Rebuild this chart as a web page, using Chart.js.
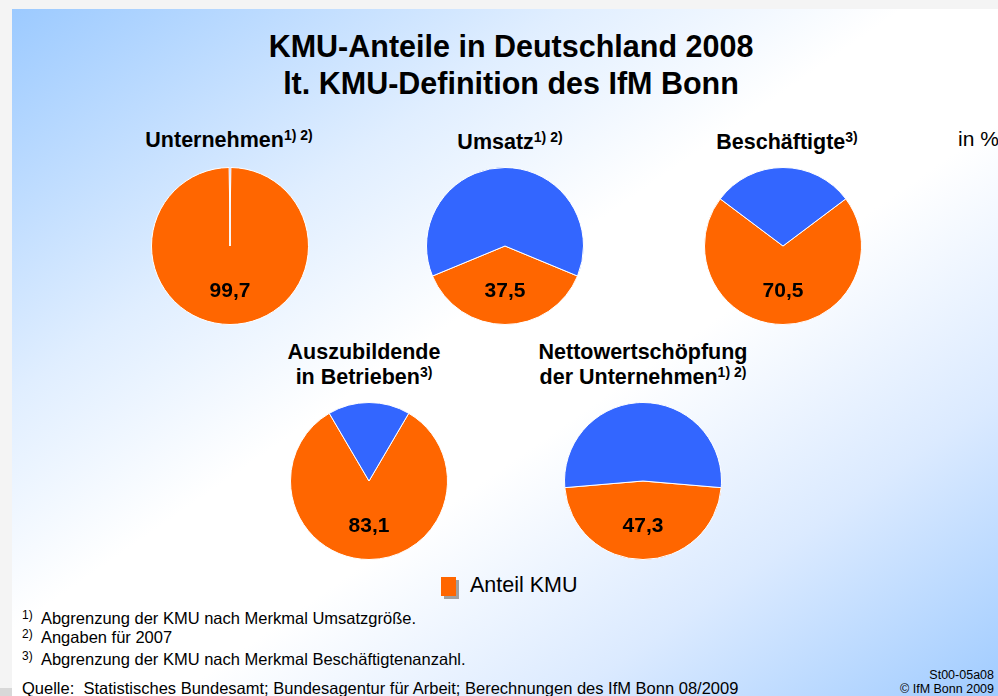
<!DOCTYPE html>
<html>
<head>
<meta charset="utf-8">
<script src="https://cdn.jsdelivr.net/npm/chart.js@4.4.0/dist/chart.umd.min.js"></script>
<style>
  html, body { margin: 0; padding: 0; }
  body { width: 998px; height: 696px; background: #f4f4f4; position: relative; overflow: hidden;
         font-family: "Liberation Sans", Arial, sans-serif; }
  #slide { position: absolute; left: 12px; top: 9px; width: 990px; height: 690px;
           background: linear-gradient(to bottom right, #9ccaff 0%, #e0eeff 28%, #ffffff 45%, #ffffff 58%, #dbeaff 78%, #9fcbff 100%); }
  .t { position: absolute; white-space: nowrap; color: #000; }
  .title { left: 0; width: 1022px; text-align: center; font-weight: bold; font-size: 30.5px; }
  .ptitle { font-weight: bold; font-size: 21.5px; text-align: center; width: 300px; line-height: 25px; }
  sup { font-size: 14px; vertical-align: 7px; line-height: 0; }
  canvas { position: absolute; }
  .foot { font-size: 16.5px; }
  .foot sup { font-size: 12px; vertical-align: 5px; }
  .small { font-size: 12.5px; text-align: right; right: 4px; }
</style>
</head>
<body>
<div id="slide"></div>
<div class="t title" style="top:29px">KMU-Anteile in Deutschland 2008</div>
<div class="t title" style="top:66px">lt. KMU-Definition des IfM Bonn</div>

<div class="t" style="left:958px; top:127px; font-size:21px;">in %</div>

<div id="titles"></div>

<canvas id="c0" width="160" height="160"></canvas>
<canvas id="c1" width="160" height="160"></canvas>
<canvas id="c2" width="160" height="160"></canvas>
<canvas id="c3" width="160" height="160"></canvas>
<canvas id="c4" width="160" height="160"></canvas>

<div style="position:absolute; left:441px; top:577px; width:15px; height:19px; background:#ff6600; box-shadow: 3px 3px 0 #a0a0a0;"></div>
<div class="t foot" style="left:470px; top:573px; font-size:21.5px;">Anteil KMU</div>

<div class="t foot" style="left:22px; top:609px;"><sup>1)</sup>&nbsp; Abgrenzung der KMU nach Merkmal Umsatzgröße.</div>
<div class="t foot" style="left:22px; top:628px;"><sup>2)</sup>&nbsp; Angaben für 2007</div>
<div class="t foot" style="left:22px; top:650px;"><sup>3)</sup>&nbsp; Abgrenzung der KMU nach Merkmal Beschäftigtenanzahl.</div>
<div class="t foot" style="left:22px; top:679px;">Quelle:&nbsp; Statistisches Bundesamt; Bundesagentur für Arbeit; Berechnungen des IfM Bonn 08/2009</div>
<div class="t small" style="top:668px;">St00-05a08</div>
<div class="t small" style="top:682px;">© IfM Bonn 2009</div>
<div style="position:absolute; left:0; top:688px; width:12px; height:8px; background:#d8d8d8;"></div>

<script>
// pie titles (html, superscripts kept as text)
var pieTitles = [
  'Unternehmen<sup>1) 2)</sup>',
  'Umsatz<sup>1) 2)</sup>',
  'Beschäftigte<sup>3)</sup>',
  'Auszubildende<br>in Betrieben<sup>3)</sup>',
  'Nettowertschöpfung<br>der Unternehmen<sup>1) 2)</sup>'
];
var kmuShares = [99.7, 37.5, 70.5, 83.1, 47.3];
var sliceLabels = ['Anteil KMU', 'Großunternehmen'];
var sliceColors = ['#ff6600', '#3366ff'];

// where each pie sits on the slide
var centers = [[230, 246], [505, 246], [783, 246], [369, 481], [643, 481]];
var titleCenters = [229, 510, 787, 364, 643];
var titleTops = [128, 130, 130, 340, 340];

var titleBox = document.getElementById('titles');
for (var i = 0; i < pieTitles.length; i++) {
  var d = document.createElement('div');
  d.className = 't ptitle';
  d.innerHTML = pieTitles[i];
  d.style.left = (titleCenters[i] - 150) + 'px';
  d.style.top = titleTops[i] + 'px';
  titleBox.appendChild(d);
}

// draws the KMU value inside the orange slice
var valueLabel = {
  id: 'valueLabel',
  afterDatasetsDraw: function(chart) {
    var arc = chart.getDatasetMeta(0).data[0];
    var mid = (arc.startAngle + arc.endAngle) / 2;
    var r = arc.outerRadius * 0.57;
    var ctx = chart.ctx;
    ctx.save();
    ctx.font = 'bold 21px "Liberation Sans", Arial, sans-serif';
    ctx.fillStyle = '#000';
    ctx.textAlign = 'center';
    ctx.textBaseline = 'middle';
    var v = chart.data.datasets[0].data[0];
    ctx.fillText(v.toFixed(1).replace('.', ','), arc.x + Math.cos(mid) * r, arc.y + Math.sin(mid) * r);
    ctx.restore();
  }
};

for (var i = 0; i < kmuShares.length; i++) {
  var cv = document.getElementById('c' + i);
  cv.style.left = (centers[i][0] - 80) + 'px';
  cv.style.top = (centers[i][1] - 80) + 'px';
  var kmu = kmuShares[i];
  new Chart(cv, {
    type: 'pie',
    data: {
      labels: sliceLabels,
      datasets: [{
        data: [kmu, +(100 - kmu).toFixed(1)],
        backgroundColor: sliceColors,
        borderColor: '#ffffff',
        borderWidth: 1
      }]
    },
    options: {
      responsive: false,
      animation: false,
      devicePixelRatio: 1,
      rotation: 180 - kmu * 1.8,   // orange slice centred at the bottom
      layout: { padding: 1 },
      plugins: { legend: { display: false }, tooltip: { enabled: false } }
    },
    plugins: [valueLabel]
  });
}
</script>
</body>
</html>
